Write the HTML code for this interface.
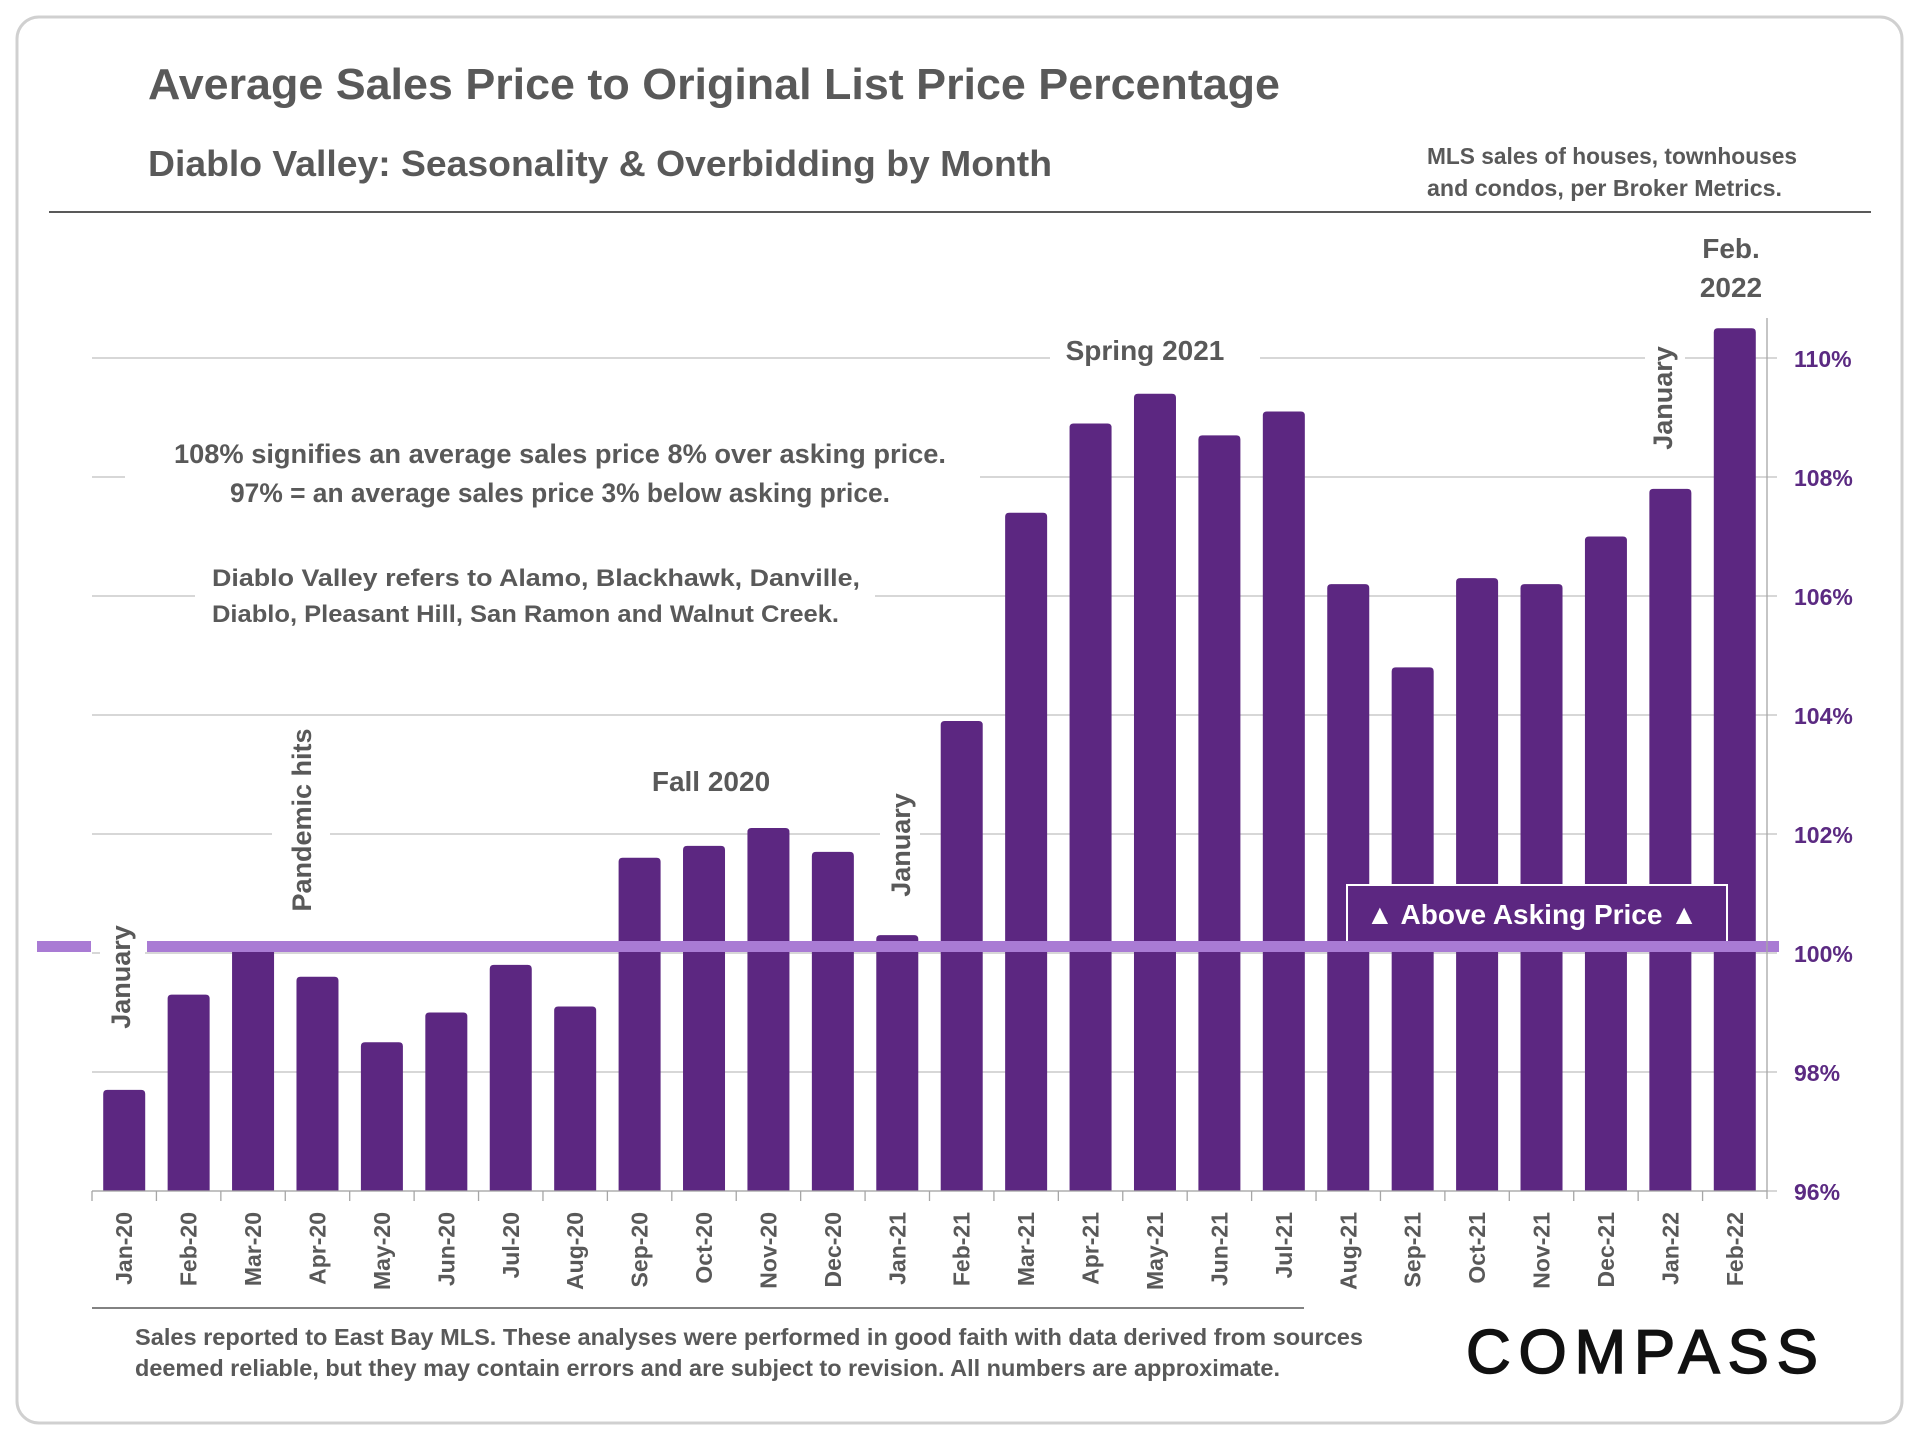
<!DOCTYPE html>
<html><head><meta charset="utf-8"><style>
html,body{margin:0;padding:0;background:#fff}
svg{display:block;font-family:"Liberation Sans",sans-serif}
</style></head><body>
<svg id="chart" width="1920" height="1440" viewBox="0 0 1920 1440">
<rect x="17" y="17" width="1885" height="1406" rx="22" fill="#fff" stroke="#d0d0d0" stroke-width="3"/>
<text x="148" y="99" font-size="44" font-weight="bold" fill="#595959" textLength="1132" lengthAdjust="spacingAndGlyphs">Average Sales Price to Original List Price Percentage</text>
<text x="148" y="176" font-size="36" font-weight="bold" fill="#595959" textLength="904" lengthAdjust="spacingAndGlyphs">Diablo Valley: Seasonality &amp; Overbidding by Month</text>
<text x="1427" y="164" font-size="23" font-weight="bold" fill="#595959" textLength="370" lengthAdjust="spacingAndGlyphs">MLS sales of houses, townhouses</text>
<text x="1427" y="196" font-size="23" font-weight="bold" fill="#595959" textLength="355" lengthAdjust="spacingAndGlyphs">and condos, per Broker Metrics.</text>
<line x1="49" y1="212" x2="1871" y2="212" stroke="#595959" stroke-width="2"/>
<g id="grid"></g>
<g id="bars"></g>
<g id="annotations"></g>
<g id="axis"></g>
<line x1="92" y1="1308" x2="1304" y2="1308" stroke="#595959" stroke-width="1.5"/>
<text x="135" y="1345" font-size="23" font-weight="bold" fill="#595959" textLength="1228" lengthAdjust="spacingAndGlyphs">Sales reported to East Bay MLS. These analyses were performed in good faith with data derived from sources</text>
<text x="135" y="1376" font-size="23" font-weight="bold" fill="#595959" textLength="1145" lengthAdjust="spacingAndGlyphs">deemed reliable, but they may contain errors and are subject to revision. All numbers are approximate.</text>
<g>
<text x="1466" y="1373" font-size="62" fill="#111" stroke="#111" stroke-width="1.5" textLength="352" lengthAdjust="spacing">COMPASS</text>
</g>
</svg>
<script>
const categories=["Jan-20","Feb-20","Mar-20","Apr-20","May-20","Jun-20","Jul-20","Aug-20","Sep-20","Oct-20","Nov-20","Dec-20","Jan-21","Feb-21","Mar-21","Apr-21","May-21","Jun-21","Jul-21","Aug-21","Sep-21","Oct-21","Nov-21","Dec-21","Jan-22","Feb-22"];
const values=[97.7,99.3,100.1,99.6,98.5,99.0,99.8,99.1,101.6,101.8,102.1,101.7,100.3,103.9,107.4,108.9,109.4,108.7,109.1,106.2,104.8,106.3,106.2,107.0,107.8,110.5];
const yTicks=[96,98,100,102,104,106,108,110];
const yTickLabels=["96%","98%","100%","102%","104%","106%","108%","110%"];
const NS="http://www.w3.org/2000/svg";
const X0=92,X1=1767,Y0=1191,YMIN=96,YMAX=110,YTOP=358;
const bw=(X1-X0)/categories.length;
function xs(i){return X0+bw*(i+0.5);}
function ys(v){return Y0-(v-YMIN)/(YMAX-YMIN)*(Y0-YTOP);}
function mk(tag,attrs,parent){const e=document.createElementNS(NS,tag);for(const k in attrs)e.setAttribute(k,attrs[k]);parent.appendChild(e);return e;}
const grid=document.getElementById('grid'),bars=document.getElementById('bars'),ann=document.getElementById('annotations'),axis=document.getElementById('axis');
yTicks.forEach((t,i)=>{
  const y=ys(t);
  const l=mk('line',{x1:X0,x2:X1+10,y1:y,y2:y,stroke:'#bfbfbf','stroke-width':1.3},grid);
  
  
  const tx=mk('text',{x:1794,y:y+9,'font-size':23,'font-weight':'bold',fill:'#5b2a82'},axis);
  tx.textContent=yTickLabels[i];
  
  
});
const ax=mk('line',{x1:X1,x2:X1,y1:318,y2:Y0+8,stroke:'#a6a6a6','stroke-width':1.3},axis);


const bl=mk('line',{x1:X0,x2:X1,y1:Y0,y2:Y0,stroke:'#a6a6a6','stroke-width':1.3},axis);


categories.forEach((c,i)=>{
  const v=values[i],x=xs(i),y=ys(v),w=42;
  const p=mk('path',{d:`M${x-w/2},${Y0} L${x-w/2},${y+4} Q${x-w/2},${y} ${x-w/2+4},${y} L${x+w/2-4},${y} Q${x+w/2},${y} ${x+w/2},${y+4} L${x+w/2},${Y0} Z`,fill:'#5c2781'},bars);
  
  
  const tk=mk('line',{x1:X0+bw*i,x2:X0+bw*i,y1:Y0,y2:Y0+10,stroke:'#a6a6a6','stroke-width':1.3},axis);
  
  
  const t=mk('text',{x:0,y:0,'font-size':23,'font-weight':'bold',fill:'#595959','text-anchor':'end',transform:`translate(${x+8},1212) rotate(-90)`},axis);
  t.textContent=c;
  
  
});
function box(x,y,w,h,name){const r=mk('rect',{x:x,y:y,width:w,height:h,fill:'#fff'},ann);}
function txt(s,attrs,name){const t=mk('text',Object.assign({'font-weight':'bold',fill:'#595959'},attrs),ann);t.textContent=s;return t;}
box(1050,330,210,40,'spring-label-bg');
txt('Spring 2021',{x:1145,y:360,'font-size':28,'text-anchor':'middle'},'spring-2021-label');
txt('Feb.',{x:1731,y:258,'font-size':28,'text-anchor':'middle'},'feb-2022-label-line1');
txt('2022',{x:1731,y:297,'font-size':28,'text-anchor':'middle'},'feb-2022-label-line2');
box(1645,340,40,115,'jan22-label-bg');
txt('January',{x:0,y:0,'font-size':27,'text-anchor':'middle',transform:'translate(1672,398) rotate(-90)'},'january-2022-label');
box(125,430,855,80,'note1-bg');
txt('108% signifies an average sales price 8% over asking price.',{x:560,y:463,'font-size':27,'text-anchor':'middle',textLength:772,lengthAdjust:'spacingAndGlyphs'},'note-108');
txt('97% = an average sales price 3% below asking price.',{x:560,y:502,'font-size':27,'text-anchor':'middle',textLength:660,lengthAdjust:'spacingAndGlyphs'},'note-97');
box(195,560,680,70,'note2-bg');
txt('Diablo Valley refers to Alamo, Blackhawk, Danville,',{x:212,y:586,'font-size':24,textLength:648,lengthAdjust:'spacingAndGlyphs'},'note-area-line1');
txt('Diablo, Pleasant Hill, San Ramon and Walnut Creek.',{x:212,y:622,'font-size':24,textLength:627,lengthAdjust:'spacingAndGlyphs'},'note-area-line2');
box(272,720,58,200,'pandemic-label-bg');
txt('Pandemic hits',{x:0,y:0,'font-size':27,'text-anchor':'middle',transform:'translate(311,820) rotate(-90)'},'pandemic-hits-label');
box(640,760,145,40,'fall-label-bg');
txt('Fall 2020',{x:711,y:791,'font-size':28,'text-anchor':'middle'},'fall-2020-label');
box(880,785,40,120,'jan21-label-bg');
txt('January',{x:0,y:0,'font-size':27,'text-anchor':'middle',transform:'translate(910,845) rotate(-90)'},'january-2021-label');
box(100,915,45,120,'jan20-label-bg');
txt('January',{x:0,y:0,'font-size':27,'text-anchor':'middle',transform:'translate(130,977) rotate(-90)'},'january-2020-label');
const yl=ys(100)-7;
const r1=mk('rect',{x:37,y:yl-5,width:54,height:11,fill:'#a97bd4'},ann);


const ab=mk('rect',{x:1347,y:885,width:380,height:yl-885,fill:'#5c2781',stroke:'#fff','stroke-width':2},ann);


const at=mk('text',{x:1532,y:924,'font-size':28,'font-weight':'bold',fill:'#fff','text-anchor':'middle'},ann);
at.textContent='▲ Above Asking Price ▲';


const r2=mk('rect',{x:147,y:yl-5,width:1632,height:11,fill:'#a97bd4'},ann);


</script>
</body></html>
